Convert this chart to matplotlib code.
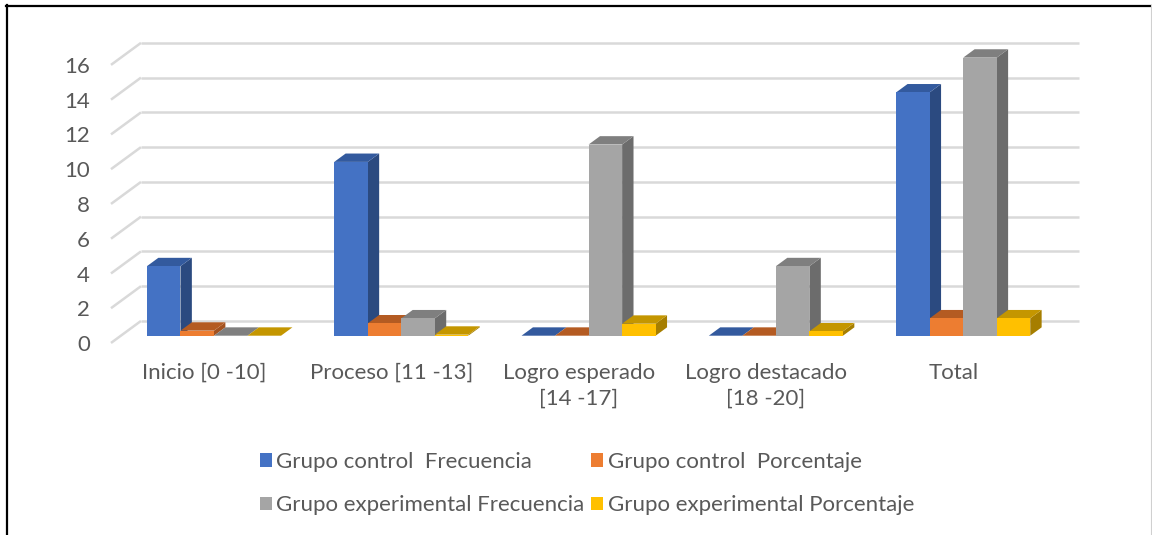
import matplotlib
matplotlib.use("Agg")
import matplotlib.pyplot as plt
from matplotlib.collections import PolyCollection
from matplotlib.patches import Patch
from matplotlib.lines import Line2D

# ---------------- data ----------------
categories = ["Inicio [0 -10]", "Proceso [11 -13]", "Logro esperado\n[14 -17]",
              "Logro destacado\n[18 -20]", "Total"]
series_names = ["Grupo control  Frecuencia", "Grupo control  Porcentaje",
                "Grupo experimental Frecuencia", "Grupo experimental Porcentaje"]
control_freq = [4, 10, 0, 0, 14]
control_pct = [0.29, 0.71, 0, 0, 1.0]
exp_freq = [0, 1, 11, 4, 16]
exp_pct = [0, 0.06, 0.69, 0.25, 1.0]
y_ticks = [0, 2, 4, 6, 8, 10, 12, 14, 16]

# ---------------- style ----------------
front_colors = ["#4472C4", "#ED7D31", "#A5A5A5", "#FFC000"]
top_colors = ["#335A9E", "#B45B22", "#7F7F7F", "#C49600"]
side_colors = ["#2B4A80", "#A35220", "#6C6C6C", "#A67E00"]
text_color = "#595959"
grid_color = "#D9D9D9"
FONT = "Lato"
FS = 16

W, H = 1152, 535
fig = plt.figure(figsize=(W / 100, H / 100), dpi=100)
ax = fig.add_axes([0, 0, 1, 1])
ax.set_axis_off()

# pixel-consistent data limits
cat_px, x0_px = 187.3, 214.0
y_px, y0_px = 17.38, 335.7
ax.set_xlim(-x0_px / cat_px, (W - x0_px) / cat_px)
ax.set_ylim((y0_px - H) / y_px, y0_px / y_px)

# depth geometry (data units)
Dx, Dy = 0.160, 1.266          # full floor depth
front_f, back_f = -0.33, 0.67  # floor front / back wall relative to bar front
bdx, bdy = 0.38 * Dx, 0.38 * Dy  # bar depth

bar_w = 0.179
group_w = 4 * bar_w

# --- walls / gridlines ---
x_left_front = -0.55
x_left_back = x_left_front + Dx
x_right_back = (1079 - x0_px) / cat_px
for k in y_ticks:
    yb = k + back_f * Dy
    yf = k + front_f * Dy
    ax.plot([x_left_back, x_right_back], [yb, yb], color=grid_color, lw=1.8,
            zorder=1, solid_capstyle="butt")
    ax.plot([x_left_front, x_left_back], [yf, yb], color=grid_color, lw=1.8,
            zorder=1, solid_capstyle="butt")
    ax.text(x_left_front - 0.112, yf - 0.12, str(k), ha="right", va="center",
            fontsize=FS, color=text_color, family=FONT)

# --- bars ---
all_series = [control_freq, control_pct, exp_freq, exp_pct]
for j, vals in enumerate(all_series):
    xs = [i - group_w / 2 + j * bar_w for i in range(len(categories))]
    tops, sides = [], []
    for xl, v in zip(xs, vals):
        xr = xl + bar_w
        tops.append([(xl, v), (xr, v), (xr + bdx, v + bdy), (xl + bdx, v + bdy)])
        if v > 0:
            sides.append([(xr, 0), (xr + bdx, bdy), (xr + bdx, v + bdy), (xr, v)])
    ax.add_collection(PolyCollection(sides, facecolors=side_colors[j],
                                     edgecolors="none", zorder=2 + 2 * j))
    ax.add_collection(PolyCollection(tops, facecolors=top_colors[j],
                                     edgecolors="none", zorder=2 + 2 * j))
    ax.bar(xs, vals, width=bar_w, align="edge", color=front_colors[j],
           edgecolor="none", zorder=3 + 2 * j)

# --- category labels ---
for i, c in enumerate(categories):
    ax.text(i + front_f * Dx, (y0_px - 363) / y_px, c, ha="center", va="top",
            fontsize=FS, color=text_color, family=FONT, linespacing=1.38)

# --- legend (row-wise order) ---
handles = [Patch(facecolor=front_colors[j], edgecolor="none", label=series_names[j])
           for j in range(4)]
order = [0, 2, 1, 3]
fig.legend([handles[o] for o in order], [series_names[o] for o in order],
           ncol=2, loc="center", bbox_to_anchor=(587 / W, (H - 483.5) / H),
           frameon=False, handlelength=0.55, handleheight=0.55,
           handletextpad=0.2, columnspacing=0.3, labelspacing=1.05,
           prop={"family": FONT, "size": FS}, labelcolor=text_color)

# --- chart border ---
fig.add_artist(Line2D([6.5 / W, 6.5 / W], [0, (H - 5) / H], color="black", lw=1.6,
                      transform=fig.transFigure))
fig.add_artist(Line2D([6 / W, 1], [(H - 5.5) / H, (H - 5.5) / H], color="black",
                      lw=1.6, transform=fig.transFigure))
fig.add_artist(Line2D([1151 / W, 1151 / W], [0, (H - 5) / H], color="#D0D0D0",
                      lw=0.8, transform=fig.transFigure))

fig.savefig("out.png", dpi=100, facecolor="white")
